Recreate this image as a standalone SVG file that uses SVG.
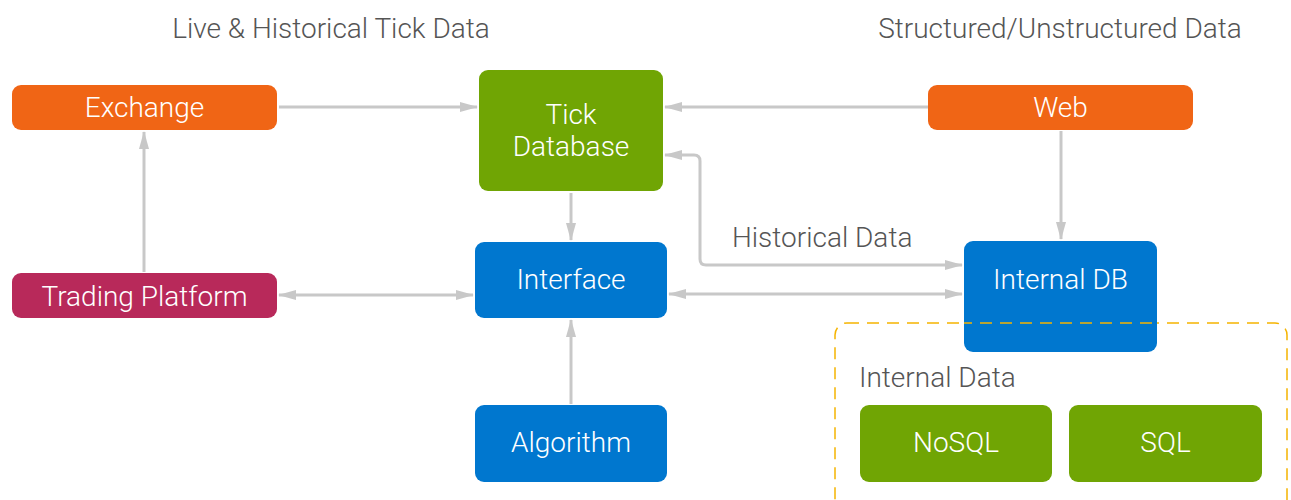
<svg xmlns="http://www.w3.org/2000/svg" width="1291" height="500" viewBox="0 0 1291 500">
  <style>
    .node text { font-family: Roboto, "Liberation Sans", sans-serif; font-weight: 300; font-size: 28px; fill: #ffffff; text-anchor: middle; }
    .label { font-family: Roboto, "Liberation Sans", sans-serif; font-weight: 300; font-size: 28px; fill: #555555; }
    .orange { fill: #f06515; }
    .magenta { fill: #b8295a; }
    .green { fill: #70a504; }
    .blue { fill: #0077cf; }
    .edge { fill: none; stroke: #c8c8c8; stroke-width: 3; }
  </style>
  <defs>
    <marker id="arrow" viewBox="0 0 18 10" refX="17" refY="5" markerWidth="18" markerHeight="10" markerUnits="userSpaceOnUse" orient="auto-start-reverse">
      <path d="M0,0 L18,5 L0,10 Z" fill="#c8c8c8"/>
    </marker>
  </defs>
  <rect width="1291" height="500" fill="#ffffff"/>

  <!-- headings -->
  <text class="label" x="331" y="38" text-anchor="middle">Live &amp; Historical Tick Data</text>
  <text class="label" x="1060" y="38" text-anchor="middle">Structured/Unstructured Data</text>

  <!-- internal data group -->
  <g id="internal-data">
    <rect x="835" y="323" width="452" height="200" rx="12" fill="none" stroke="#f5b400" stroke-width="1.5" stroke-dasharray="12 8"/>
    <text class="label" x="859" y="387">Internal Data</text>
  </g>

  <!-- connectors -->
  <g id="connectors">
    <line class="edge" x1="279" y1="107" x2="477" y2="107" marker-end="url(#arrow)"/>
    <line class="edge" x1="928" y1="107" x2="665" y2="107" marker-end="url(#arrow)"/>
    <line class="edge" x1="144" y1="272" x2="144" y2="132" marker-end="url(#arrow)"/>
    <line class="edge" x1="279" y1="295" x2="473" y2="295" marker-start="url(#arrow)" marker-end="url(#arrow)"/>
    <line class="edge" x1="571" y1="193" x2="571" y2="240" marker-end="url(#arrow)"/>
    <line class="edge" x1="571" y1="404" x2="571" y2="320" marker-end="url(#arrow)"/>
    <line class="edge" x1="669" y1="294" x2="962" y2="294" marker-start="url(#arrow)" marker-end="url(#arrow)"/>
    <path class="edge" d="M665,155 L694,155 Q700,155 700,161 L700,259 Q700,265 706,265 L962,265" marker-start="url(#arrow)" marker-end="url(#arrow)"/>
    <line class="edge" x1="1061" y1="131" x2="1061" y2="239" marker-end="url(#arrow)"/>
    <text class="label" x="732" y="247">Historical Data</text>
  </g>

  <!-- nodes -->
  <g id="exchange" class="node">
    <rect class="orange" x="12" y="85" width="265" height="45" rx="9"/>
    <text x="144.5" y="117">Exchange</text>
  </g>
  <g id="trading-platform" class="node">
    <rect class="magenta" x="12" y="273" width="265" height="45" rx="9"/>
    <text x="144.5" y="306">Trading Platform</text>
  </g>
  <g id="tick-database" class="node">
    <rect class="green" x="479" y="70" width="184" height="121" rx="9"/>
    <text x="571" y="124">Tick</text>
    <text x="571" y="156">Database</text>
  </g>
  <g id="interface" class="node">
    <rect class="blue" x="475" y="242" width="192" height="76" rx="9"/>
    <text x="571" y="289">Interface</text>
  </g>
  <g id="algorithm" class="node">
    <rect class="blue" x="475" y="405" width="192" height="77" rx="9"/>
    <text x="571" y="452">Algorithm</text>
  </g>
  <g id="web" class="node">
    <rect class="orange" x="928" y="85" width="265" height="45" rx="9"/>
    <text x="1060.5" y="117">Web</text>
  </g>
  <g id="internal-db" class="node">
    <rect class="blue" x="964" y="241" width="193" height="111" rx="9"/>
    <text x="1060.5" y="289">Internal DB</text>
  </g>
  <g id="nosql" class="node">
    <rect class="green" x="860" y="405" width="192" height="77" rx="9"/>
    <text x="956" y="452">NoSQL</text>
  </g>
  <g id="sql" class="node">
    <rect class="green" x="1069" y="405" width="193" height="77" rx="9"/>
    <text x="1165.5" y="452">SQL</text>
  </g>

  <!-- dashed border passes over the Internal DB box -->
  <line x1="964" y1="323" x2="1157" y2="323" stroke="#f5b400" stroke-width="1.5" stroke-dasharray="12 8" stroke-dashoffset="4"/>
</svg>
